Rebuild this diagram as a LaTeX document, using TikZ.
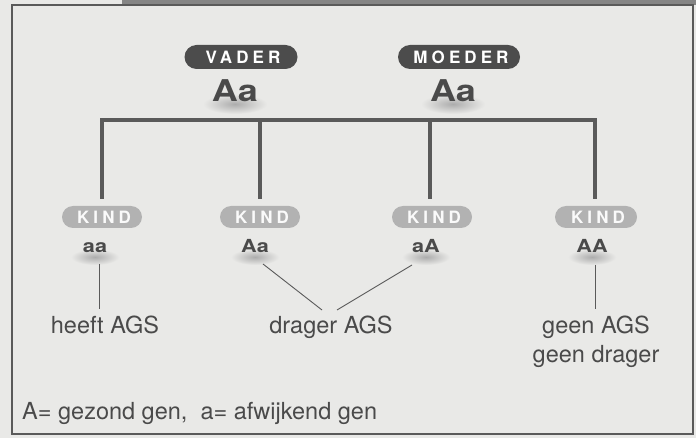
\documentclass[tikz,border=0pt]{standalone}
\usepackage{fontspec}
\setmainfont{TeX Gyre Heros}
\newfontfamily\tagfont[LetterSpace=24]{TeX Gyre Heros Bold}
\newfontfamily\genofont[FakeStretch=1.2]{TeX Gyre Heros Bold}
\usetikzlibrary{shapes.misc}
\definecolor{bg}{HTML}{E9E9E7}
\definecolor{ink}{HTML}{4A4A4A}
\definecolor{rim}{HTML}{5A5A5A}
\definecolor{band}{HTML}{858585}
\definecolor{darkpill}{HTML}{4C4C4C}
\definecolor{lightpill}{HTML}{B2B2B2}
\tikzset{
  pill/.style={rounded rectangle, inner sep=0pt, minimum height=24pt, text=white,
    font=\tagfont\fontsize{17}{17}\selectfont},
  parentpill/.style={pill, fill=darkpill},
  kidpill/.style={pill, fill=lightpill, text=white!96!gray, minimum height=22pt},
  geno/.style={text=ink, font=\genofont\fontsize{18}{18}\selectfont, inner sep=0pt, anchor=base},
  bigeno/.style={text=ink, font=\genofont\fontsize{30}{30}\selectfont, inner sep=0pt, anchor=base},
  haze/.style={inner color=gray!65, outer color=bg, draw=none},
  note/.style={text=ink, font=\fontsize{23.5}{28}\selectfont, inner sep=0pt, align=center, anchor=base},
  tree/.style={draw=rim, line width=4.5pt, line join=miter},
  thin/.style={draw=rim, line width=0.9pt}
}
\newcommand{\tagtxt}[1]{#1\kern-4pt}
\begin{document}
\begin{tikzpicture}[x=1pt, y=-1pt]
  % page and frame
  \fill[bg] (0,0) rectangle (696,438);
  \useasboundingbox (0,0) rectangle (696,438);
  \fill[band] (122,0) rectangle (696,5);
  \draw[rim, line width=2.5pt] (12,5) rectangle (693,434);

  % soft shadows under the genotypes
  \shade[haze] (235,104) ellipse (32 and 10);
  \shade[haze] (453,104) ellipse (32 and 10);
  \shade[haze] (95,257) ellipse (24 and 8);
  \shade[haze] (255,257) ellipse (24 and 8);
  \shade[haze] (426,257) ellipse (24 and 8);
  \shade[haze] (592,257) ellipse (24 and 8);

  % parents
  \node[parentpill, minimum width=113pt] (vader) at (241,57) {\tagtxt{VADER}};
  \node[parentpill, minimum width=122pt] (moeder) at (459,57) {\tagtxt{MOEDER}};
  \node[bigeno] (gv) at (235,102) {Aa};
  \node[bigeno] (gm) at (453,102) {Aa};

  % children
  \node[kidpill, minimum width=80pt] (k1) at (102,217) {\tagtxt{KIND}};
  \node[kidpill, minimum width=80pt] (k2) at (260,217) {\tagtxt{KIND}};
  \node[kidpill, minimum width=80pt] (k3) at (432,217) {\tagtxt{KIND}};
  \node[kidpill, minimum width=82pt] (k4) at (596,217) {\tagtxt{KIND}};
  \node[geno] (g1) at (95,253) {aa};
  \node[geno] (g2) at (255,253) {Aa};
  \node[geno] (g3) at (426,253) {aA};
  \node[geno] (g4) at (592,253) {AA};

  % family tree
  \coordinate (j1) at (102,120);
  \coordinate (j2) at (260,120);
  \coordinate (j3) at (430,120);
  \coordinate (j4) at (595,120);
  \coordinate (t1) at (102,199);
  \coordinate (t2) at (260,199);
  \coordinate (t3) at (430,199);
  \coordinate (t4) at (595,199);
  \draw[tree] (t1) -- (j1) -- (j4) -- (t4);
  \draw[tree] (j2) -- (t2);
  \draw[tree] (j3) -- (t3);

  % outcomes
  \node[note] (heeft) at (105,334) {heeft AGS};
  \node[note] (drager) at (331,334) {drager AGS};
  \node[note] (geen1) at (596,334) {geen AGS};
  \node[note] (geen2) at (596,362) {geen drager};
  \node[note, anchor=base west] (legend) at (22,419) {A= gezond gen,\ \ a= afwijkend gen};

  \coordinate (s1) at (99,264);
  \coordinate (e1) at (99,309);
  \coordinate (s2) at (263,264);
  \coordinate (e2) at (322,310);
  \coordinate (s3) at (412,265);
  \coordinate (e3) at (337,310);
  \coordinate (s4) at (595,265);
  \coordinate (e4) at (595,309);
  \draw[thin] (s1) -- (e1);
  \draw[thin] (s2) -- (e2);
  \draw[thin] (s3) -- (e3);
  \draw[thin] (s4) -- (e4);
\end{tikzpicture}
\end{document}
